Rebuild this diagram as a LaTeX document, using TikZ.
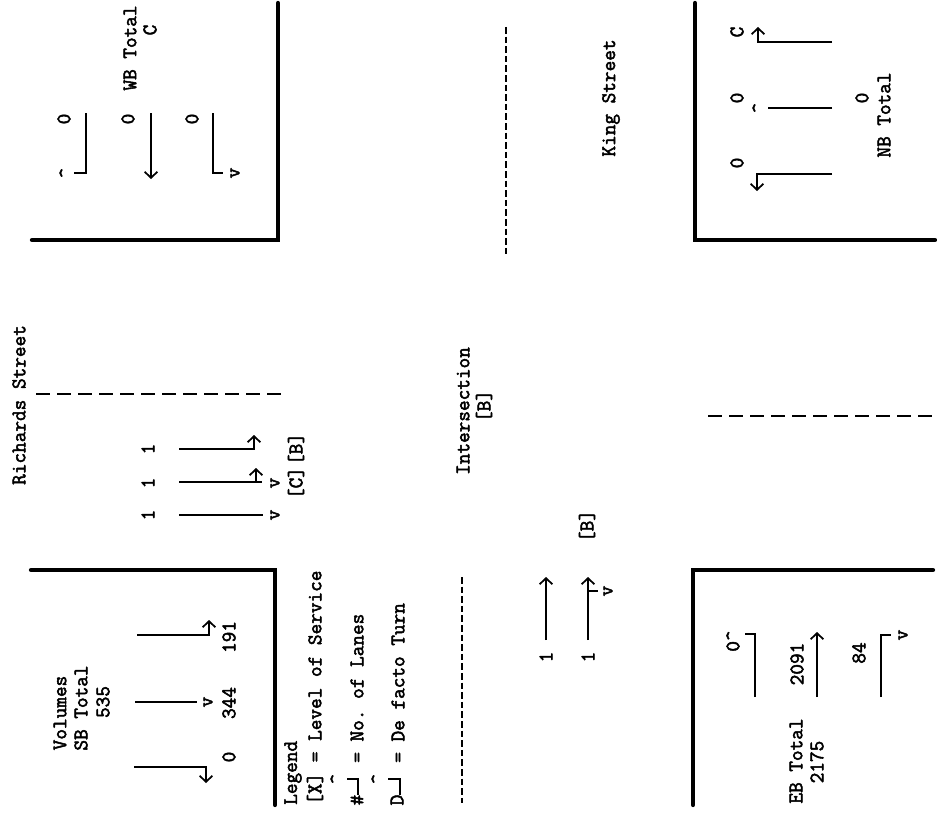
\documentclass[tikz,border=0pt]{standalone}
\usepackage{fontspec}
\setmonofont[FakeBold=2.4]{Latin Modern Mono}
\usetikzlibrary{arrows.meta}

\tikzset{
  curb/.style={line width=3.2pt, line cap=round},
  lane/.style={line width=1.4pt},
  laneto/.style={lane, -{Straight Barb[length=4.5pt,width=9.5pt,line width=1.3pt]}},
  kerb/.style={line width=1.6pt, dash pattern=on 10.5pt off 5.25pt},
  centre/.style={line width=1.6pt, dash pattern=on 5pt off 2.2pt},
  lbl/.style={rotate=90, inner sep=0pt, font=\ttfamily\fontsize{15.5}{17}\selectfont}
}

\begin{document}
\begin{tikzpicture}[x=0.75pt, y=-0.75pt]
\useasboundingbox (0,0) rectangle (937,817);

% Corners
\draw[curb] (32,240) -- (278,240) -- (278,3);
\draw[curb] (935,240) -- (695,240) -- (695,3);
\draw[curb] (31,570) -- (275,570) -- (275,805);
\draw[curb] (933,570) -- (693,570) -- (693,805);

% Road markings
\draw[kerb] (36,394) -- (282,394);
\draw[kerb] (708,416) -- (932,416);
\draw[centre] (506,27) -- (506,257);
\draw[centre] (462,577) -- (462,803);

% Street names
\node[lbl] (richards) at (19,405) {Richards Street};
\node[lbl] (king) at (611,98) {King Street};
\node[lbl] (intersection) at (463,411) {Intersection};
\node[lbl] (intersectionlos) at (484,406) {[B]};

% Southbound volumes
\node[lbl] (volumes) at (60,713) {Volumes};
\node[lbl] (sbtotal) at (81,708) {SB Total};
\node[lbl] (sbsum) at (103,702) {535};
\draw[laneto] (134,767) -- (206,767) -- (206,783);
\draw[lane] (135,702) -- (197,702);
\node[lbl] (sbv) at (208,702) {v};
\draw[laneto] (137,635) -- (209,635) -- (209,620);
\node[lbl] (sbleft) at (229,757) {0};
\node[lbl] (sbthru) at (229,703) {344};
\node[lbl] (sbright) at (229,637) {191};

% Southbound lanes
\node[lbl] (sblaneone) at (148,449) {1};
\node[lbl] (sblanetwo) at (148,483) {1};
\node[lbl] (sblanethree) at (148,515) {1};
\draw[laneto] (179,449) -- (254,449) -- (254,435);
\draw[lane] (179,482) -- (262,482);
\draw[laneto] (256,482) -- (256,468);
\node[lbl] (sbvtwo) at (275,483) {v};
\draw[lane] (179,515) -- (263,515);
\node[lbl] (sbvthree) at (275,515) {v};
\node[lbl] (sblosb) at (296,449) {[B]};
\node[lbl] (sblosc) at (296,483) {[C]};

% Westbound
\node[lbl] (wbtotal) at (130,48) {WB Total};
\node[lbl] (wbsum) at (150,30) {C};
\draw[lane] (86,113) -- (86,173) -- (74,173);
\node[lbl] (wbup) at (66,173) {\textasciicircum};
\draw[laneto] (151,113) -- (151,179);
\draw[lane] (213,113) -- (213,173) -- (223,173);
\node[lbl] (wbv) at (235,173) {v};
\node[lbl] (wbleft) at (64,119) {0};
\node[lbl] (wbthru) at (128,119) {0};
\node[lbl] (wbright) at (192,119) {0};

% Northbound
\node[lbl] (nbsum) at (862,98) {0};
\node[lbl] (nbtotal) at (884,115) {NB Total};
\draw[laneto] (832,42) -- (758,42) -- (758,27);
\draw[lane] (832,108) -- (768,108);
\node[lbl] (nbup) at (759,108) {\textasciicircum};
\draw[laneto] (832,174) -- (757,174) -- (757,191);
\node[lbl] (nbright) at (737,32) {C};
\node[lbl] (nbthru) at (737,98) {0};
\node[lbl] (nbleft) at (737,163) {0};

% Eastbound volumes
\draw[lane] (755,697) -- (755,634) -- (745,634);
\node[lbl] (ebzero) at (733,641) {0\textasciicircum};
\draw[laneto] (817,697) -- (817,632);
\draw[lane] (881,697) -- (881,635) -- (891,635);
\node[lbl] (ebv) at (903,635) {v};
\node[lbl] (ebthru) at (797,664) {2091};
\node[lbl] (ebright) at (859,653) {84};
\node[lbl] (ebtotal) at (796,761) {EB Total};
\node[lbl] (ebsum) at (817,762) {2175};

% Eastbound lanes
\node[lbl] (eblaneone) at (546,657) {1};
\node[lbl] (eblanetwo) at (588,657) {1};
\draw[laneto] (546,640) -- (546,577);
\draw[laneto] (588,640) -- (588,577);
\draw[lane] (588,591) -- (598,591);
\node[lbl] (ebvtwo) at (608,591) {v};
\node[lbl] (eblos) at (587,526) {[B]};

% Legend
\node[lbl, anchor=west] (legend) at (293,805) {Legend};
\node[lbl, anchor=west] (legendlos) at (315,805) {[X] = Level of Service};
\node[lbl] (legendup) at (337,779) {\textasciicircum};
\node[lbl, anchor=west] (legendlanes) at (357,763) {= No. of Lanes};
\node[lbl] (legendnum) at (357,800) {\#};
\draw[lane] (347,779) -- (358,779) -- (358,795);
\node[lbl] (legendupb) at (378,779) {\textasciicircum};
\node[lbl, anchor=west] (legendturn) at (398,763) {= De facto Turn};
\node[lbl] (legendd) at (397,800) {D};
\draw[lane] (388,779) -- (400,779) -- (400,795);
\end{tikzpicture}
\end{document}
